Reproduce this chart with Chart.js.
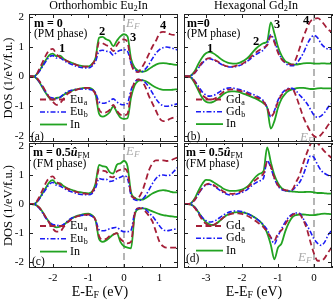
<!DOCTYPE html>
<html>
<head>
<meta charset="utf-8">
<script src="https://cdn.jsdelivr.net/npm/chart.js"></script>
<style>
  body { margin: 0; background: #fff; }
  #wrap { position: relative; width: 335px; height: 302px; overflow: hidden;
          font-family: 'Liberation Serif', 'DejaVu Serif', serif; color: #000; }
  canvas { position: absolute; }
  .t { position: absolute; white-space: nowrap; line-height: 1; }
  .t sub { font-size: 70%; vertical-align: -0.25em; line-height: 0; }
  .num { font-weight: bold; font-size: 12.5px; }
  .ef { font-style: italic; font-size: 13px; color: #a8a8a8; }
  .m { font-weight: bold; font-size: 12px; }
  .ph { font-size: 11.5px; }
  .pl { font-size: 11.5px; }
</style>
</head>
<body>
<div id="wrap">
  <canvas id="panelA" width="180" height="143" style="left:0;top:0"></canvas>
  <canvas id="panelB" width="155" height="143" style="left:180px;top:0"></canvas>
  <canvas id="panelC" width="180" height="161" style="left:0;top:141px"></canvas>
  <canvas id="panelD" width="155" height="161" style="left:180px;top:141px"></canvas>

  <div class="t" style="left:38px;width:121px;top:-1px;text-align:center;font-size:12px">Orthorhombic Eu<sub>2</sub>In</div>
  <div class="t" style="left:196px;width:120px;top:-1px;text-align:center;font-size:12px">Hexagonal Gd<sub>2</sub>In</div>
  <div class="t" style="left:48px;width:104px;top:285px;text-align:center;font-size:14px">E-E<sub>F</sub> (eV)</div>
  <div class="t" style="left:202px;width:104px;top:285px;text-align:center;font-size:14px">E-E<sub>F</sub> (eV)</div>

  <!-- panel (a) -->
  <div class="t m" style="left:34px;top:17px">m = 0</div>
  <div class="t ph" style="left:34px;top:28px">(PM phase)</div>
  <div class="t num" style="left:59px;top:42px">1</div>
  <div class="t num" style="left:99px;top:25px">2</div>
  <div class="t num" style="left:130px;top:31px">3</div>
  <div class="t num" style="left:160px;top:19px">4</div>
  <div class="t ef" style="left:126px;top:16px">E<sub>F</sub></div>
  <div class="t pl" style="left:31px;top:131px">(a)</div>

  <!-- panel (b) -->
  <div class="t m" style="left:187px;top:17px">m=0</div>
  <div class="t ph" style="left:187px;top:28px">(PM phase)</div>
  <div class="t num" style="left:207px;top:42px">1</div>
  <div class="t num" style="left:253px;top:35px">2</div>
  <div class="t num" style="left:274px;top:18px">3</div>
  <div class="t num" style="left:303px;top:14px">4</div>
  <div class="t ef" style="left:300px;top:130px">E<sub>F</sub></div>
  <div class="t pl" style="left:187px;top:131px">(b)</div>

  <!-- panel (c) -->
  <div class="t m" style="left:33px;top:146px">m = 0.5<i>û</i><sub style="font-weight:normal">FM</sub></div>
  <div class="t ph" style="left:33px;top:158px">(FM phase)</div>
  <div class="t ef" style="left:126px;top:144px">E<sub>F</sub></div>
  <div class="t pl" style="left:32px;top:256px">(c)</div>

  <!-- panel (d) -->
  <div class="t m" style="left:186px;top:146px">m = 0.5<i>û</i><sub style="font-weight:normal">FM</sub></div>
  <div class="t ph" style="left:186px;top:158px">(FM phase)</div>
  <div class="t ef" style="left:298px;top:250px">E<sub>F</sub></div>
  <div class="t pl" style="left:186px;top:253px">(d)</div>
</div>

<script>
// energy grids (eV, relative to E_F)
const energyOrtho = [
  -2.7, -2.6, -2.5, -2.4, -2.3, -2.2, -2.1, -2.0, -1.9, -1.8,
  -1.7, -1.6, -1.5, -1.4, -1.3, -1.2, -1.1, -1.0, -0.9, -0.8,
  -0.7, -0.6, -0.5, -0.4, -0.3, -0.2, -0.1, 0.0, 0.1, 0.2,
  0.3, 0.4, 0.5, 0.6, 0.7, 0.8, 0.9, 1.0, 1.1, 1.2,
  1.3, 1.4, 1.5
];
const energyHex = [
  -3.6, -3.5, -3.4, -3.3, -3.2, -3.1, -3.0, -2.9, -2.8, -2.7,
  -2.6, -2.5, -2.4, -2.3, -2.2, -2.1, -2.0, -1.9, -1.8, -1.7,
  -1.6, -1.5, -1.4, -1.3, -1.2, -1.1, -1.0, -0.9, -0.8, -0.7,
  -0.6, -0.5, -0.4, -0.3, -0.2, -0.1, 0.0, 0.1, 0.2, 0.3,
  0.4, 0.5
];

// tick labels
const yTicks = [-2, -1, 0, 1, 2];
const xTicksOrtho = [-2, -1, 0, 1];
const xTicksHex = [-3, -2, -1, 0];

// legend names [base, subscript]
const legendOrtho = [['Eu', 'a'], ['Eu', 'b'], ['In', '']];
const legendHex = [['Gd', 'a'], ['Gd', 'b'], ['In', '']];

// (a) orthorhombic Eu2In, m = 0
const aEuAUp = [
  0, 0, 0.02, 0.2, 0.45, 0.7, 0.88, 0.93, 0.75, 0.65,
  0.6, 0.52, 0.46, 0.42, 0.37, 0.35, 0.33, 0.33, 0.4, 0.6,
  1.15, 1.12, 1.05, 1.0, 0.85, 1.05, 1.2, 1.25, 1.15, 0.45,
  0.18, 0.15, 0.3, 0.5, 0.75, 1.0, 1.2, 1.45, 1.5, 1.48,
  1.42, 1.4, 1.4
];
const aEuADn = [
  0, 0, -0.02, -0.12, -0.3, -0.5, -0.7, -0.85, -0.95, -0.9,
  -0.75, -0.6, -0.52, -0.47, -0.43, -0.4, -0.38, -0.38, -0.43, -0.6,
  -1.1, -1.22, -1.2, -1.12, -0.95, -1.15, -1.28, -1.3, -1.25, -0.55,
  -0.2, -0.1, -0.15, -0.35, -0.65, -0.9, -1.15, -1.4, -1.5, -1.48,
  -1.42, -1.38, -1.36
];
const aEuBUp = [
  0, 0, 0.02, 0.14, 0.32, 0.5, 0.66, 0.7, 0.62, 0.62,
  0.55, 0.47, 0.42, 0.37, 0.33, 0.3, 0.29, 0.29, 0.35, 0.5,
  0.85, 0.88, 0.85, 0.83, 0.72, 0.82, 0.88, 0.9, 0.85, 0.45,
  0.25, 0.16, 0.16, 0.25, 0.4, 0.6, 0.78, 0.9, 0.97, 0.99,
  0.97, 0.93, 0.9
];
const aEuBDn = [
  0, 0, -0.02, -0.15, -0.33, -0.52, -0.68, -0.72, -0.74, -0.7,
  -0.6, -0.52, -0.47, -0.44, -0.42, -0.42, -0.42, -0.43, -0.45, -0.55,
  -0.85, -0.9, -0.88, -0.82, -0.75, -0.85, -0.93, -0.95, -0.9, -0.45,
  -0.2, -0.1, -0.12, -0.2, -0.35, -0.55, -0.75, -0.9, -0.98, -1.0,
  -0.98, -0.95, -0.92
];
const aInUp = [
  0, 0, 0.02, 0.15, 0.35, 0.55, 0.72, 0.77, 0.68, 0.7,
  0.6, 0.52, 0.48, 0.43, 0.38, 0.36, 0.34, 0.34, 0.42, 0.62,
  1.3, 1.33, 1.25, 1.2, 1.02, 1.2, 1.35, 1.42, 1.35, 0.6,
  0.3, 0.2, 0.16, 0.18, 0.25, 0.33, 0.4, 0.44, 0.45, 0.44,
  0.42, 0.4, 0.39
];
const aInDn = [
  0, 0, -0.02, -0.15, -0.35, -0.55, -0.72, -0.78, -0.72, -0.7,
  -0.62, -0.55, -0.5, -0.45, -0.42, -0.4, -0.38, -0.38, -0.42, -0.6,
  -1.25, -1.35, -1.3, -1.2, -1.0, -1.2, -1.38, -1.42, -1.4, -0.7,
  -0.3, -0.15, -0.12, -0.15, -0.22, -0.3, -0.37, -0.42, -0.45, -0.45,
  -0.45, -0.44, -0.43
];

// (c) orthorhombic Eu2In, m = 0.5 u_FM
const cEuAUp = [
  0, 0, 0.02, 0.2, 0.45, 0.72, 0.9, 0.95, 0.78, 0.68,
  0.6, 0.53, 0.48, 0.44, 0.4, 0.38, 0.36, 0.35, 0.4, 0.65,
  1.2, 1.15, 1.12, 0.95, 0.92, 1.12, 1.18, 1.22, 1.1, 0.35,
  0.2, 0.22, 0.4, 0.75, 1.15, 1.4, 1.5, 1.5, 1.5, 1.48,
  1.5, 1.55, 1.6
];
const cEuADn = [
  0, 0, -0.02, -0.1, -0.25, -0.45, -0.65, -0.85, -0.95, -0.95,
  -0.8, -0.65, -0.55, -0.47, -0.42, -0.39, -0.37, -0.36, -0.4, -0.55,
  -1.1, -1.22, -1.2, -1.1, -1.05, -1.0, -1.2, -1.3, -1.35, -1.3,
  -0.35, -0.15, -0.15, -0.25, -0.4, -0.6, -0.95, -1.3, -1.45, -1.5,
  -1.5, -1.5, -1.5
];
const cEuBUp = [
  0, 0, 0.02, 0.14, 0.32, 0.5, 0.68, 0.74, 0.65, 0.62,
  0.55, 0.48, 0.43, 0.39, 0.35, 0.33, 0.32, 0.32, 0.36, 0.55,
  0.88, 0.85, 0.85, 0.78, 0.8, 0.88, 0.92, 0.97, 0.88, 0.3,
  0.15, 0.12, 0.15, 0.28, 0.48, 0.7, 0.88, 0.98, 1.0, 0.98,
  1.0, 1.12, 1.25
];
const cEuBDn = [
  0, 0, -0.02, -0.12, -0.28, -0.48, -0.62, -0.7, -0.72, -0.75,
  -0.7, -0.6, -0.5, -0.45, -0.41, -0.39, -0.38, -0.38, -0.42, -0.55,
  -0.88, -0.92, -0.9, -0.85, -0.82, -0.8, -0.9, -0.95, -0.95, -0.9,
  -0.3, -0.15, -0.13, -0.18, -0.3, -0.42, -0.58, -0.75, -0.88, -0.92,
  -0.9, -0.87, -0.85
];
const cInUp = [
  0, 0, 0.02, 0.15, 0.35, 0.55, 0.75, 0.82, 0.7, 0.72,
  0.62, 0.55, 0.5, 0.46, 0.42, 0.4, 0.38, 0.37, 0.42, 0.7,
  1.35, 1.3, 1.28, 1.1, 1.05, 1.35, 1.4, 1.48, 1.3, 0.4,
  0.22, 0.15, 0.15, 0.2, 0.28, 0.36, 0.42, 0.46, 0.48, 0.46,
  0.43, 0.4, 0.4
];
const cInDn = [
  0, 0, -0.02, -0.1, -0.25, -0.45, -0.62, -0.75, -0.8, -0.78,
  -0.72, -0.62, -0.52, -0.45, -0.4, -0.37, -0.34, -0.33, -0.38, -0.55,
  -1.2, -1.3, -1.25, -1.15, -1.05, -1.0, -1.3, -1.45, -1.5, -1.52,
  -0.4, -0.18, -0.15, -0.16, -0.2, -0.25, -0.3, -0.35, -0.38, -0.4,
  -0.42, -0.43, -0.45
];

// (b) hexagonal Gd2In, m = 0
const bEuAUp = [
  0, 0, 0.04, 0.15, 0.32, 0.48, 0.58, 0.62, 0.58, 0.52,
  0.45, 0.38, 0.34, 0.33, 0.35, 0.38, 0.42, 0.5, 0.6, 0.72,
  0.82, 0.9, 0.97, 1.05, 1.35, 1.15, 0.8, 0.58, 0.48, 0.42,
  0.4, 0.6, 0.95, 1.3, 1.62, 1.85, 1.93, 1.96, 1.88, 1.72,
  1.57, 1.5
];
const bEuADn = [
  0, 0, -0.04, -0.2, -0.42, -0.62, -0.72, -0.77, -0.76, -0.7,
  -0.6, -0.5, -0.45, -0.43, -0.44, -0.47, -0.5, -0.55, -0.6, -0.65,
  -0.7, -0.76, -0.85, -1.05, -1.35, -1.2, -0.85, -0.62, -0.5, -0.42,
  -0.42, -0.65, -1.0, -1.35, -1.62, -1.85, -2.0, -2.05, -1.95, -1.8,
  -1.62, -1.5
];
const bEuBUp = [
  0, 0, 0.04, 0.14, 0.3, 0.45, 0.56, 0.6, 0.56, 0.5,
  0.43, 0.37, 0.33, 0.32, 0.33, 0.36, 0.4, 0.47, 0.56, 0.66,
  0.75, 0.82, 0.9, 1.1, 1.4, 1.2, 0.85, 0.6, 0.45, 0.38,
  0.36, 0.42, 0.58, 0.78, 1.05, 1.28, 1.38, 1.3, 1.1, 0.98,
  0.92, 0.92
];
const bEuBDn = [
  0, 0, -0.04, -0.17, -0.35, -0.52, -0.62, -0.66, -0.64, -0.58,
  -0.5, -0.43, -0.39, -0.38, -0.4, -0.43, -0.46, -0.5, -0.55, -0.6,
  -0.65, -0.72, -0.82, -1.05, -1.35, -1.15, -0.8, -0.58, -0.46, -0.4,
  -0.4, -0.48, -0.62, -0.75, -0.9, -1.1, -1.3, -1.37, -1.32, -1.2,
  -1.02, -0.9
];
const bInUp = [
  0, 0, 0.05, 0.2, 0.45, 0.65, 0.78, 0.82, 0.78, 0.7,
  0.6, 0.52, 0.47, 0.44, 0.43, 0.45, 0.5, 0.57, 0.68, 0.82,
  0.95, 1.05, 1.12, 1.18, 1.82, 1.45, 1.0, 0.7, 0.52, 0.45,
  0.4, 0.4, 0.42, 0.44, 0.45, 0.45, 0.44, 0.43, 0.44, 0.44,
  0.43, 0.43
];
const bInDn = [
  0, 0, -0.05, -0.25, -0.5, -0.72, -0.85, -0.88, -0.85, -0.78,
  -0.68, -0.58, -0.52, -0.5, -0.5, -0.52, -0.56, -0.6, -0.65, -0.7,
  -0.75, -0.82, -0.9, -1.05, -1.75, -1.5, -1.05, -0.75, -0.58, -0.48,
  -0.43, -0.4, -0.38, -0.38, -0.4, -0.42, -0.42, -0.4, -0.39, -0.4,
  -0.4, -0.4
];

// (d) hexagonal Gd2In, m = 0.5 u_FM
const dEuAUp = [
  0, 0, 0.04, 0.17, 0.38, 0.56, 0.67, 0.7, 0.66, 0.58,
  0.5, 0.42, 0.37, 0.35, 0.36, 0.4, 0.45, 0.52, 0.62, 0.75,
  0.85, 0.95, 1.05, 1.45, 1.3, 0.9, 0.65, 0.52, 0.48, 0.47,
  0.5, 0.75, 1.0, 1.4, 1.75, 2.05, 2.2, 2.1, 1.95, 1.8,
  1.68, 1.58
];
const dEuADn = [
  0, 0, -0.03, -0.15, -0.35, -0.55, -0.68, -0.74, -0.72, -0.65,
  -0.55, -0.45, -0.38, -0.34, -0.32, -0.32, -0.34, -0.38, -0.44, -0.52,
  -0.6, -0.7, -0.8, -0.95, -1.15, -1.25, -1.0, -0.9, -0.7, -0.5,
  -0.38, -0.33, -0.35, -0.55, -0.85, -1.3, -1.7, -1.95, -1.95, -1.85,
  -1.65, -1.48
];
const dEuBUp = [
  0, 0, 0.04, 0.16, 0.36, 0.55, 0.66, 0.68, 0.63, 0.55,
  0.46, 0.38, 0.33, 0.31, 0.32, 0.36, 0.4, 0.46, 0.56, 0.66,
  0.74, 0.8, 0.9, 1.5, 1.25, 0.88, 0.62, 0.5, 0.46, 0.45,
  0.48, 0.6, 0.75, 1.0, 1.35, 1.65, 1.6, 1.35, 1.15, 1.05,
  0.98, 0.93
];
const dEuBDn = [
  0, 0, -0.03, -0.13, -0.3, -0.46, -0.57, -0.62, -0.6, -0.54,
  -0.45, -0.37, -0.3, -0.26, -0.24, -0.24, -0.26, -0.3, -0.36, -0.43,
  -0.5, -0.6, -0.72, -0.88, -1.15, -1.37, -1.1, -0.85, -0.62, -0.45,
  -0.35, -0.31, -0.32, -0.5, -0.72, -0.95, -1.2, -1.35, -1.42, -1.3,
  -1.05, -0.9
];
const dInUp = [
  0, 0, 0.05, 0.22, 0.48, 0.7, 0.83, 0.82, 0.76, 0.68,
  0.6, 0.52, 0.47, 0.45, 0.45, 0.47, 0.5, 0.56, 0.66, 0.82,
  0.96, 1.05, 1.14, 1.95, 1.45, 1.0, 0.72, 0.55, 0.47, 0.44,
  0.43, 0.42, 0.41, 0.41, 0.42, 0.42, 0.4, 0.38, 0.38, 0.37,
  0.36, 0.36
];
const dInDn = [
  0, 0, -0.03, -0.12, -0.3, -0.48, -0.62, -0.7, -0.72, -0.66,
  -0.56, -0.45, -0.37, -0.32, -0.29, -0.28, -0.29, -0.31, -0.35, -0.42,
  -0.5, -0.6, -0.75, -1.0, -1.4, -1.9, -1.5, -1.35, -0.95, -0.65,
  -0.45, -0.38, -0.36, -0.36, -0.37, -0.38, -0.38, -0.36, -0.34, -0.33,
  -0.34, -0.35
];

const FONT = "'Liberation Serif', 'DejaVu Serif', serif";
const RED = '#a51f38';
const BLUE = '#1c1cf5';
const GREEN = '#22a322';

// add half-step minor ticks around the labelled ones
function withMinor(ticks) {
  const out = [];
  const step = ticks[1] - ticks[0];
  out.push([ticks[0] - step / 2, false]);
  ticks.forEach(v => {
    out.push([v, true]);
    out.push([v + step / 2, false]);
  });
  return out;
}

// frame, inward ticks, E_F line and legend
const panelDeco = {
  id: 'panelDeco',
  beforeDatasetsDraw(chart) {
    const {ctx, chartArea: area, scales} = chart;
    const px = Math.round(scales.x.getPixelForValue(0));
    ctx.save();
    ctx.strokeStyle = '#b5b5b5';
    ctx.lineWidth = 2;
    ctx.setLineDash([7, 4]);
    ctx.beginPath();
    ctx.moveTo(px, area.top);
    ctx.lineTo(px, area.bottom);
    ctx.stroke();
    ctx.restore();
  },
  afterDraw(chart, args, opts) {
    const {ctx, chartArea: area, scales: {x, y}} = chart;
    const L = Math.round(area.left), R = Math.round(area.right);
    const T = Math.round(area.top), B = Math.round(area.bottom);
    ctx.save();
    ctx.strokeStyle = '#222';
    ctx.lineWidth = 1;
    ctx.strokeRect(L + 0.5, T + 0.5, R - L - 1, B - T - 1);

    ctx.beginPath();
    withMinor(yTicks).forEach(([v, major]) => {
      if (v < y.min || v > y.max) return;
      const py = Math.round(y.getPixelForValue(v)) + 0.5;
      const len = major ? 4 : 2;
      ctx.moveTo(L, py); ctx.lineTo(L + len, py);
      ctx.moveTo(R, py); ctx.lineTo(R - len, py);
    });
    withMinor(opts.xTicks).forEach(([v, major]) => {
      if (v < x.min || v > x.max) return;
      const px = Math.round(x.getPixelForValue(v)) + 0.5;
      const len = major ? 4 : 2;
      ctx.moveTo(px, T); ctx.lineTo(px, T + len);
      ctx.moveTo(px, B); ctx.lineTo(px, B - len);
    });
    ctx.stroke();

    // legend: one row per species, styled like its dataset
    const ds = chart.data.datasets;
    opts.legendNames.forEach((name, i) => {
      const d = ds[i * 2];
      const ly = opts.legendY + i * opts.legendDy;
      ctx.strokeStyle = d.borderColor;
      ctx.lineWidth = d.borderWidth;
      ctx.setLineDash(d.borderDash || []);
      ctx.beginPath();
      ctx.moveTo(opts.legendX, ly);
      ctx.lineTo(opts.legendX + 27, ly);
      ctx.stroke();
      ctx.setLineDash([]);
      ctx.fillStyle = '#000';
      ctx.textBaseline = 'middle';
      ctx.font = '12px ' + FONT;
      const tx = opts.legendX + 30;
      ctx.fillText(name[0], tx, ly);
      if (name[1]) {
        const w = ctx.measureText(name[0]).width;
        ctx.font = '8px ' + FONT;
        ctx.fillText(name[1], tx + w + 0.5, ly + 3);
      }
    });
    ctx.restore();
  }
};

function makeDatasets(energy, euAUp, euADn, euBUp, euBDn, inUp, inDn) {
  const pts = vals => vals.map((v, i) => ({x: energy[i], y: v}));
  const red = {borderColor: RED, borderWidth: 1.8, borderDash: [6, 3.5]};
  const blue = {borderColor: BLUE, borderWidth: 1.6, borderDash: [5, 2, 1.5, 2]};
  const green = {borderColor: GREEN, borderWidth: 1.8};
  return [
    {data: pts(euAUp), ...red},
    {data: pts(euADn), ...red},
    {data: pts(euBUp), ...blue},
    {data: pts(euBDn), ...blue},
    {data: pts(inUp), ...green},
    {data: pts(inDn), ...green}
  ];
}

function renderPanel(id, datasets, cfg) {
  new Chart(document.getElementById(id), {
    type: 'line',
    data: {datasets},
    options: {
      responsive: false,
      animation: false,
      events: [],
      layout: {padding: cfg.padding, autoPadding: false},
      elements: {
        point: {radius: 0},
        line: {cubicInterpolationMode: 'monotone', fill: false}
      },
      plugins: {
        legend: {display: false},
        tooltip: {enabled: false},
        panelDeco: {
          xTicks: cfg.xTicks,
          legendNames: cfg.legendNames,
          legendX: cfg.legendX,
          legendY: cfg.legendY,
          legendDy: cfg.legendDy
        }
      },
      scales: {
        x: {
          type: 'linear',
          min: cfg.xMin,
          max: cfg.xMax,
          display: cfg.showX,
          grid: {display: false, drawTicks: false},
          border: {display: false},
          afterBuildTicks: s => { s.ticks = cfg.xTicks.map(v => ({value: v})); },
          afterFit: s => {
            s.paddingLeft = 0; s.paddingRight = 0;
            if (cfg.showX) s.height = 34;
          },
          ticks: {font: {family: FONT, size: 11}, color: '#000', padding: 4, maxRotation: 0}
        },
        y: {
          min: cfg.yMin,
          max: cfg.yMax,
          display: cfg.showY,
          grid: {display: false, drawTicks: false},
          border: {display: false},
          afterBuildTicks: s => { s.ticks = yTicks.map(v => ({value: v})); },
          afterFit: s => {
            s.paddingTop = 0; s.paddingBottom = 0;
            if (cfg.showY) s.width = 29;
          },
          ticks: {font: {family: FONT, size: 11}, color: '#000', padding: 5},
          title: {
            display: true,
            text: 'DOS (1/eV/f.u.)',
            font: {family: FONT, size: 12.5},
            color: '#000',
            padding: {top: 1, bottom: 0}
          }
        }
      }
    },
    plugins: [panelDeco]
  });
}

renderPanel('panelA', makeDatasets(energyOrtho, aEuAUp, aEuADn, aEuBUp, aEuBDn, aInUp, aInDn), {
  padding: {top: 14, right: 2, bottom: 1, left: 0},
  xMin: -2.67, xMax: 1.52, yMin: -2.2, yMax: 2.1,
  showX: false, showY: true, xTicks: xTicksOrtho,
  legendNames: legendOrtho, legendX: 40, legendY: 99.5, legendDy: 12.5
});
renderPanel('panelB', makeDatasets(energyHex, bEuAUp, bEuADn, bEuBUp, bEuBDn, bInUp, bInDn), {
  padding: {top: 14, right: 3, bottom: 1, left: 4},
  xMin: -3.61, xMax: 0.5, yMin: -2.2, yMax: 2.1,
  showX: false, showY: false, xTicks: xTicksHex,
  legendNames: legendHex, legendX: 16, legendY: 99.5, legendDy: 12.3
});
renderPanel('panelC', makeDatasets(energyOrtho, cEuAUp, cEuADn, cEuBUp, cEuBDn, cInUp, cInDn), {
  padding: {top: 2, right: 2, bottom: 0, left: 0},
  xMin: -2.67, xMax: 1.52, yMin: -2.2, yMax: 2.1,
  showX: true, showY: true, xTicks: xTicksOrtho,
  legendNames: legendOrtho, legendX: 40, legendY: 85, legendDy: 12.8
});
renderPanel('panelD', makeDatasets(energyHex, dEuAUp, dEuADn, dEuBUp, dEuBDn, dInUp, dInDn), {
  padding: {top: 2, right: 3, bottom: 0, left: 4},
  xMin: -3.61, xMax: 0.5, yMin: -2.2, yMax: 2.1,
  showX: true, showY: false, xTicks: xTicksHex,
  legendNames: legendHex, legendX: 16, legendY: 85, legendDy: 12.3
});
</script>
</body>
</html>
